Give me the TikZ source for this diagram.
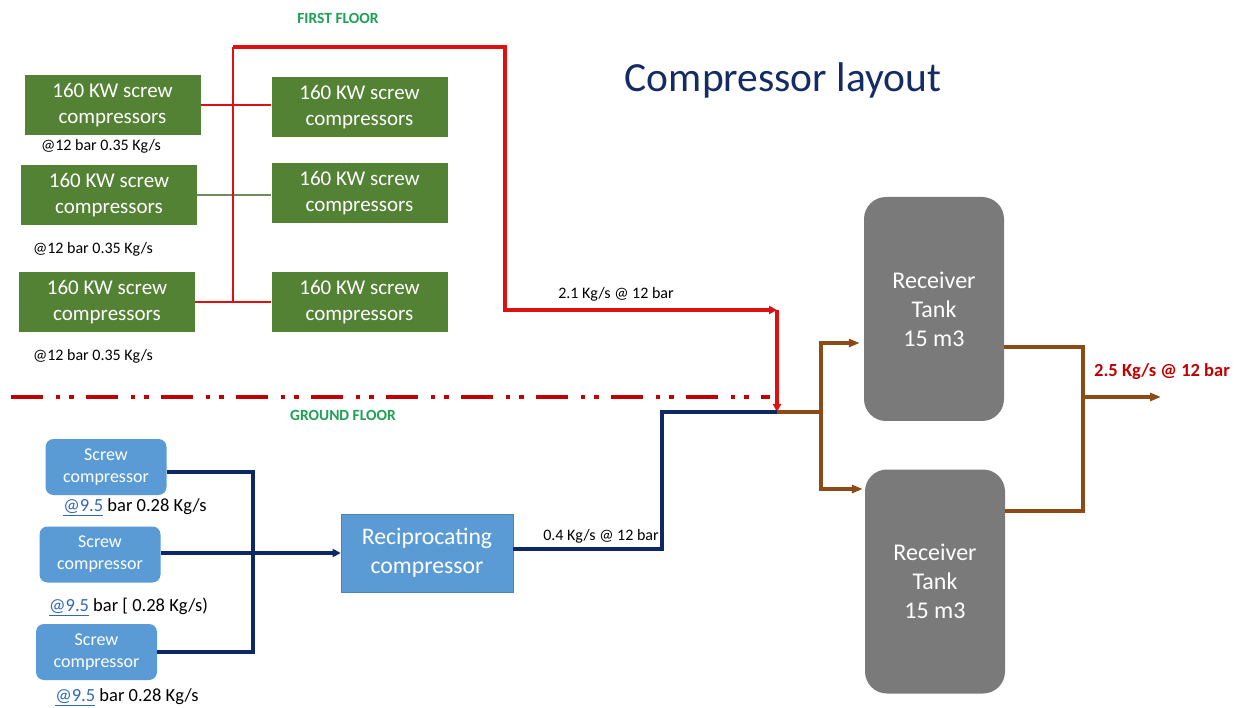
\documentclass[tikz,border=0pt]{standalone}
\usepackage{fontspec}
\setmainfont{Carlito}
\usetikzlibrary{arrows.meta}
\definecolor{gbox}{HTML}{548235}
\definecolor{bbox}{HTML}{5B9BD5}
\definecolor{tank}{HTML}{7A7A7A}
\definecolor{navy}{HTML}{0E2866}
\definecolor{title}{HTML}{142C64}
\definecolor{redl}{HTML}{E01010}
\definecolor{dashred}{HTML}{C00000}
\definecolor{floorg}{HTML}{1FA055}
\definecolor{brownl}{HTML}{8C4A17}
\definecolor{linkb}{HTML}{2F6AB4}
\definecolor{midline}{HTML}{6E8A5E}
\tikzset{
  greenbox/.style={rectangle, fill=gbox, text=white, align=center, inner sep=0pt,
    minimum width=176pt, minimum height=60pt, font=\fontsize{21}{25.5}\selectfont},
  bluebox/.style={rectangle, rounded corners=8pt, fill=bbox, text=white, align=center, inner sep=0pt,
    minimum width=121pt, minimum height=56pt, font=\fontsize{18}{22}\selectfont},
  recipbox/.style={rectangle, fill=bbox, draw=bbox!85!black, line width=0.6pt, text=white, align=center, inner sep=0pt,
    minimum width=172pt, minimum height=78pt, font=\fontsize{23.7}{29}\selectfont},
  tankbox/.style={rectangle, rounded corners=22pt, fill=tank, text=white, align=center, inner sep=0pt,
    minimum width=140pt, minimum height=224pt, font=\fontsize{24}{29}\selectfont},
  lbl/.style={inner sep=0pt, text=black},
  thinred/.style={draw=redl, line width=1.2pt},
  thickred/.style={draw=redl, line width=3.3pt},
  navyline/.style={draw=navy, line width=3.2pt},
  brownline/.style={draw=brownl, line width=3.2pt},
  tip/.style={-{Triangle[length=8pt,width=8pt]}},
  longtip/.style={-{Triangle[length=11pt,width=8pt]}},
  floorlbl/.style={inner sep=0pt, text=floorg, font=\bfseries\fontsize{15.5}{18}\selectfont},
}
\newcommand{\lnk}[1]{{\color{linkb}\underline{#1}}}
\begin{document}
\begin{tikzpicture}[x=1pt,y=-1pt]
\useasboundingbox[fill=white] (0,0) rectangle (1245,708);

% title and floor labels
\node[inner sep=0pt, text=title, font=\fontsize{41.5}{48}\selectfont] (ttl) at (783,80) {Compressor layout};
\node[floorlbl] (ff) at (338,18) {FIRST FLOOR};
\node[floorlbl] (gf) at (343,415) {GROUND FLOOR};

% first floor compressors
\node[greenbox] (g1) at (112.5,105) {160 KW screw\\compressors};
\node[greenbox] (g2) at (109,195) {160 KW screw\\compressors};
\node[greenbox] (g3) at (107,302) {160 KW screw\\compressors};
\node[greenbox] (g4) at (359.5,107) {160 KW screw\\compressors};
\node[greenbox] (g5) at (359.5,193) {160 KW screw\\compressors};
\node[greenbox] (g6) at (359.5,302) {160 KW screw\\compressors};

\node[lbl, font=\fontsize{16}{19}\selectfont] (l1) at (101,146) {@12 bar 0.35 Kg/s};
\node[lbl, font=\fontsize{16}{19}\selectfont] (l2) at (93,249) {@12 bar 0.35 Kg/s};
\node[lbl, font=\fontsize{16}{19}\selectfont] (l3) at (93,356) {@12 bar 0.35 Kg/s};

% thin connectors first floor
\coordinate (tl) at (233,47);
\coordinate (tb) at (233,302);
\draw[thinred] (g1.east) -- (g1.east -| g4.west);
\draw[draw=midline, line width=1.2pt] (g2.east) -- (g2.east -| g5.west);
\draw[thinred] (g3.east) -- (g6.west);
\draw[thinred] (tl) -- (tb);

% thick red main line
\coordinate (c1) at (505,47);
\coordinate (c2) at (505,310);
\coordinate (j1) at (777,310);
\coordinate (j2) at (777,412);
\draw[thickred, line join=miter, tip] (tl) -- (c1) -- (c2) -- (j1);
\draw[thickred, tip] (j1) -- (j2);
\node[lbl, font=\fontsize{16}{19}\selectfont] (l21) at (616,294) {2.1 Kg/s @ 12 bar};

% floor separator
\coordinate (s1) at (11,397);
\coordinate (s2) at (770,397);
\draw[draw=dashred, line width=4.5pt, dash pattern=on 31.7pt off 13.3pt on 4.3pt off 9pt on 4.3pt off 12.4pt] (s1) -- (s2);

% ground floor
\node[bluebox] (b1) at (106,467) {Screw\\compressor};
\node[bluebox] (b2) at (100,554.5) {Screw\\compressor};
\node[bluebox] (b3) at (96.5,652) {Screw\\compressor};
\node[lbl, font=\fontsize{18.5}{21}\selectfont] (l4) at (135,507) {\lnk{@9.5} bar 0.28 Kg/s};
\node[lbl, font=\fontsize{18.5}{21}\selectfont] (l5) at (128.5,607) {\lnk{@9.5} bar [ 0.28 Kg/s)};
\node[lbl, font=\fontsize{18.5}{21}\selectfont] (l6) at (127,697) {\lnk{@9.5} bar 0.28 Kg/s};

\node[recipbox] (rc) at (427,553) {Reciprocating\\compressor};

\coordinate (m) at (253,553);
\draw[navyline] ([yshift=-5pt]b1.east) -| (m);
\draw[navyline] (b3.east) -| (m);
\draw[navyline, tip] (b2.east |- m) -- (rc.west |- m);

\coordinate (k) at (662,412);
\draw[navyline, line join=miter] ([yshift=4pt]rc.east) -| (k) -- (j2);
\node[lbl, font=\fontsize{16}{19}\selectfont] (l04) at (601,536) {0.4 Kg/s @ 12 bar};

% receiver tanks
\node[tankbox] (t1) at (934,309) {Receiver\\Tank\\15 m3};
\node[tankbox] (t2) at (935,581.5) {Receiver\\Tank\\15 m3};
\coordinate (bj) at (821,412);
\coordinate (a1) at (821,343);
\coordinate (a2) at (821,489);
\draw[brownline] (j2) -- (bj);
\draw[brownline, line join=miter, longtip] (bj) -- (a1) -- ([xshift=-4pt]t1.west |- a1);
\draw[brownline, line join=miter, longtip] (bj) -- (a2) -- ([xshift=-2pt]t2.west |- a2);

\coordinate (o1) at (1083,347);
\coordinate (o2) at (1083,511);
\coordinate (o3) at (1083,397);
\coordinate (out) at (1161,397);
\draw[brownline, line join=miter] (t1.east |- o1) -- (o1) -- (o2) -- (t2.east |- o2);
\draw[brownline, longtip] (o3) -- (out);
\node[inner sep=0pt, text=dashred, font=\bfseries\fontsize{18.5}{21}\selectfont] (l25) at (1162,372) {2.5 Kg/s @ 12 bar};
\end{tikzpicture}
\end{document}
